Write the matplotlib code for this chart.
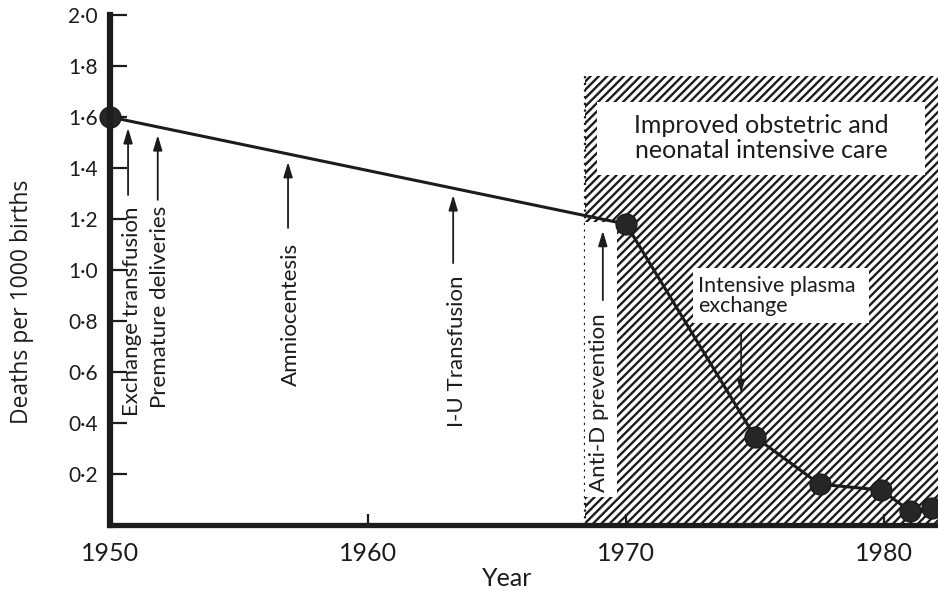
import matplotlib
matplotlib.use("Agg")
import matplotlib.pyplot as plt
from matplotlib.patches import Rectangle

plt.rcParams['font.family'] = ['Lato', 'DejaVu Sans']
plt.rcParams['hatch.linewidth'] = 1.7

# data
years = [1950, 1970, 1975.0, 1977.5, 1979.9, 1981.0, 1981.85]
deaths = [1.60, 1.18, 0.345, 0.16, 0.137, 0.055, 0.067]

yticks = [0.2, 0.4, 0.6, 0.8, 1.0, 1.2, 1.4, 1.6, 1.8, 2.0]
ytick_labels = ['0·2', '0·4', '0·6', '0·8', '1·0', '1·2', '1·4', '1·6', '1·8', '2·0']
xticks = [1950, 1960, 1970, 1980]

# events: label, x, arrow tail y, arrow head y, text top y
events = [
    ('Exchange transfusion', 1950.70, 1.294, 1.557, 1.25),
    ('Premature deliveries', 1951.85, 1.275, 1.529, 1.25),
    ('Amniocentesis', 1956.90, 1.165, 1.424, 1.106),
    ('I-U Transfusion', 1963.30, 1.027, 1.294, 0.98),
    ('Anti-D prevention', 1969.10, 0.882, 1.154, 0.831),
]
event_text_x = [1950.85, 1951.95, 1957.0, 1963.45, 1968.97]

care_start = 1968.4
care_top = 1.76

W, H = 938, 591
fig = plt.figure(figsize=(W / 100, H / 100), dpi=100)
ax = fig.add_axes([110 / W, 66 / H, 828 / W, 510 / H])
ax.set_xlim(1950, 1982.09)
ax.set_ylim(0, 2.0)

ink = '#1c1c1c'

# hatched region
ax.add_patch(Rectangle((care_start, 0), 20, care_top, facecolor='white',
                       edgecolor=ink, linewidth=0, hatch='////', zorder=1))
ax.plot([care_start, care_start], [0, care_top], color=ink, lw=1.6,
        ls=(0, (1, 2)), zorder=2)
# white column behind the anti-D label
ax.add_patch(Rectangle((care_start, 0.11), 1.25, 1.08, facecolor='white',
                       edgecolor='none', zorder=2))
# white box with heading
ax.add_patch(Rectangle((1968.88, 1.373), 12.71, 0.286, facecolor='white',
                       edgecolor='none', zorder=2))
ax.text(1975.23, 1.518, 'Improved obstetric and\nneonatal intensive care',
        ha='center', va='center', fontsize=18, linespacing=1.1,
        color=ink, zorder=3)
# plasma exchange box
ax.add_patch(Rectangle((1972.6, 0.792), 6.8, 0.216, facecolor='white',
                       edgecolor='none', zorder=2))
ax.text(1972.78, 0.975, 'Intensive plasma\nexchange', ha='left', va='top',
        fontsize=15.5, linespacing=1.0, color=ink, zorder=3)
ax.annotate('', xy=(1974.46, 0.518), xytext=(1974.46, 0.753),
            arrowprops=dict(arrowstyle='-|>,head_length=0.5,head_width=0.15',
                            mutation_scale=15, lw=1.2, color=ink,
                            shrinkA=0, shrinkB=0), zorder=3)

# main series
ax.plot(years, deaths, color=ink, lw=2.2, marker='o', markersize=15,
        markerfacecolor='#262626', markeredgecolor=ink, zorder=5,
        clip_on=False)

for (label, x, tail, head, top), tx in zip(events, event_text_x):
    ax.annotate('', xy=(x, head), xytext=(x, tail),
                arrowprops=dict(arrowstyle='-|>,head_length=0.6,head_width=0.18',
                                mutation_scale=15, lw=1.3, color=ink,
                                shrinkA=0, shrinkB=0), zorder=4)
    ax.text(tx, top, label, rotation=90, ha='center', va='top',
            fontsize=16, color=ink, zorder=4)

for s in ['top', 'right']:
    ax.spines[s].set_visible(False)
ax.spines['left'].set_linewidth(4.5)
ax.spines['bottom'].set_linewidth(3.8)
ax.spines['left'].set_color(ink)
ax.spines['bottom'].set_color(ink)
ax.spines['left'].set_zorder(6)
ax.spines['bottom'].set_zorder(6)

ax.set_yticks(yticks)
ax.set_yticklabels(ytick_labels)
ax.set_xticks(xticks)
ax.set_xticklabels([str(x) for x in xticks])
ax.tick_params(axis='y', direction='in', length=12, width=1.6, pad=9,
               labelsize=15, colors=ink)
ax.tick_params(axis='x', direction='in', length=8, width=1.6, pad=12,
               labelsize=18, colors=ink)

fig.text(22 / W, 1 - 302 / H, 'Deaths per 1000 births', rotation=90,
         ha='center', va='center', fontsize=16.5, color=ink,
         family=['Open Sans', 'DejaVu Sans'])
fig.text(507 / W, 1 - 579 / H, 'Year', ha='center', va='center',
         fontsize=18, color=ink)

fig.savefig('out.png', dpi=100)
